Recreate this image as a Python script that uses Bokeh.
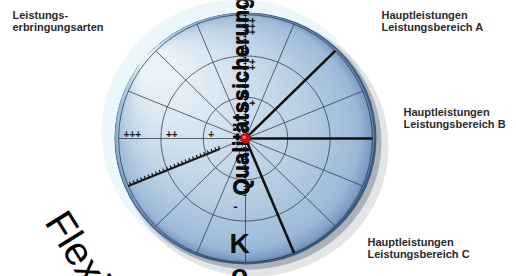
import numpy as np
from bokeh.plotting import figure
from bokeh.models import Range1d
from bokeh.core.properties import value
from bokeh.embed import file_html
from bokeh.resources import INLINE

# ---------------- data ----------------
levels = [1, 2, 3]
level_labels = ["+", "++", "+++"]
meridian_angles = [0, 22.5, 45, 67.5, 90, 112.5, 135, 157.5,
                   180, 202.5, 225, 247.5, 270, 292.5, 315, 337.5]
main_axes = ["Hauptleistungen\nLeistungsbereich A",
             "Hauptleistungen\nLeistungsbereich B",
             "Hauptleistungen\nLeistungsbereich C"]
main_axis_angles = [45, 0, -67.5]
main_axis_values = [3, 3, 3]
ruler_angle = 202.5
ruler_from, ruler_to = 0.66, 3.0
vruler_from, vruler_to = -1.38, 3.4
corner_title = "Leistungs-\nerbringungsarten"
flex_label = "Flexibilität"
vertical_label = "Qualitätssicherung"
cost_label = "K\no\ns\nt\ne\nn"
minus_label = "-"
minus_level = -1.65

# ---------------- geometry ----------------
W, H = 516, 276
def Y(yp):
    return H - yp

cx, cy = 245, Y(138)
ux, uy = 42.3, 41.3
Rx, Ry = 131, 126

p = figure(width=W, height=H, x_range=Range1d(0, W), y_range=Range1d(0, H),
           output_backend="svg", toolbar_location=None, min_border=0,
           x_axis_location=None, y_axis_location=None)
p.grid.visible = False
p.outline_line_color = None
p.background_fill_color = "white"
p.border_fill_color = "white"

# glow and shadow
p.ellipse(cx - 7, cy + 7, width=2 * Rx + 12, height=2 * Ry + 12,
          fill_color="#e6f5fa", fill_alpha=0.8, line_color=None)
p.ellipse(cx + 8, cy - 8, width=2 * Rx + 8, height=2 * Ry + 8,
          fill_color="#7a838c", fill_alpha=0.22, line_color=None)
p.ellipse(cx + 4, cy - 4, width=2 * Rx + 2, height=2 * Ry + 2,
          fill_color="#4a5560", fill_alpha=0.35, line_color=None)

# gradient disk (layers tangent at upper-left)
def hex2rgb(h):
    h = h.lstrip("#")
    return np.array([int(h[i:i + 2], 16) for i in (0, 2, 4)], dtype=float)

stops_t = [0, 0.015, 0.08, 0.35, 0.7, 1.0]
stops_c = [hex2rgb(c) for c in ["#3a5a82", "#7799c2", "#9bb9d7", "#b8cee3", "#d5e3ef", "#ecf3f8"]]
N = 80
phi = np.deg2rad(140)
xs, ys, ws, hs, cols = [], [], [], [], []
for t in np.linspace(0, 1, N):
    s = 1 - 0.88 * t
    rx, ry = Rx * s, Ry * s
    xs.append(cx + (Rx - rx) * np.cos(phi))
    ys.append(cy + (Ry - ry) * np.sin(phi))
    ws.append(2 * rx)
    hs.append(2 * ry)
    rgb = [np.interp(t, stops_t, [c[k] for c in stops_c]) for k in range(3)]
    cols.append("#%02x%02x%02x" % tuple(int(round(v)) for v in rgb))
p.ellipse(xs, ys, width=ws, height=hs, fill_color=cols, line_color=None)

# rings
p.ellipse([cx] * 3, [cy] * 3, width=[2 * ux * l for l in levels], height=[2 * uy * l for l in levels],
          fill_color=None, line_color="#2e3b48", line_width=0.9, line_alpha=0.85)

# meridians
ang = np.deg2rad(meridian_angles)
rmax = max(levels)
p.segment([cx] * len(ang), [cy] * len(ang), cx + rmax * ux * np.cos(ang), cy + rmax * uy * np.sin(ang),
          line_color="#2e3b48", line_width=0.9, line_alpha=0.85)

# main axes
ma = np.deg2rad(main_axis_angles)
mv = np.array(main_axis_values)
p.segment([cx] * 3, [cy] * 3, cx + mv * ux * np.cos(ma), cy + mv * uy * np.sin(ma),
          line_color="#111111", line_width=2.6)

# ruler lower-left
ra = np.deg2rad(ruler_angle)
d = np.array([np.cos(ra) * ux, np.sin(ra) * uy])
dn = d / np.linalg.norm(d)
nrm = np.array([-dn[1], dn[0]])
if nrm[1] < 0:
    nrm = -nrm
x0, y0 = cx + ruler_from * d[0], cy + ruler_from * d[1]
x1, y1 = cx + ruler_to * d[0], cy + ruler_to * d[1]
p.segment([x0], [y0], [x1], [y1], line_color="#1a1a1a", line_width=2.2)
L = np.hypot(x1 - x0, y1 - y0)
tk = np.arange(0, L, 4.0)
tx = x0 + dn[0] * tk
ty = y0 + dn[1] * tk
p.segment(tx, ty, tx + nrm[0] * 3.2, ty + nrm[1] * 3.2, line_color="#1a1a1a", line_width=1.2)

# vertical ruler ticks and column text
vy = np.arange(cy + vruler_from * uy, cy + vruler_to * uy, 3.0)
p.segment([243] * len(vy), vy, [246] * len(vy), vy, line_color="#111111", line_width=1.0)
for dx in (240, 241):
    p.text([dx], [cy + vruler_from * uy], text=[vertical_label], angle=np.pi / 2,
           text_align="left", text_baseline="middle", text_font=value("Liberation Sans"),
           text_font_style="bold", text_font_size="22px", text_color="#0a0a0a")

# centre dot
p.scatter([cx], [cy], size=10, fill_color="#cc1414", line_color="#8a0a0a", line_width=0.5)
p.scatter([cx - 1.2], [cy + 1.2], size=3.5, fill_color="#ff8080", line_color=None, fill_alpha=0.8)

# level labels
lv = np.array(levels)
p.text(cx - lv * ux + 5, [cy + 5] * 3, text=level_labels, text_align="left", text_baseline="middle",
       text_font=value("Liberation Sans"), text_font_style="bold", text_font_size="10px",
       text_color="#111111")
p.text([251] * 3, cy + lv * uy - 3, text=level_labels, angle=np.pi / 2, text_align="right",
       text_baseline="middle", text_font=value("Liberation Sans"), text_font_style="bold",
       text_font_size="10px", text_color="#111111")
p.text([235], [cy + minus_level * uy], text=[minus_label], text_align="center", text_baseline="middle",
       text_font=value("Liberation Sans"), text_font_style="bold", text_font_size="13px",
       text_color="#111111")

# stacked cost label
p.text([239], [Y(227)], text=[cost_label], text_align="center", text_baseline="top",
       text_font=value("Liberation Sans"), text_font_style="bold", text_font_size="28px",
       text_line_height=1.0, text_color="#0a0a0a")

# flex label
p.text([55], [Y(214)], text=[flex_label], angle=-np.deg2rad(58), text_align="left",
       text_baseline="alphabetic", text_font=value("Liberation Sans"), text_font_size="40px",
       text_color="#000000")

# corner labels
common = dict(text_align="left", text_baseline="top", text_font=value("Liberation Sans"),
              text_font_style="bold", text_font_size="11px", text_line_height=1.05,
              text_color="#2a2a2a")
p.text([12], [Y(8)], text=[corner_title], **common)
p.text([381, 403, 367], [Y(8), Y(105), Y(235)], text=main_axes, **common)

open("out.html", "w").write(file_html(p, INLINE))
